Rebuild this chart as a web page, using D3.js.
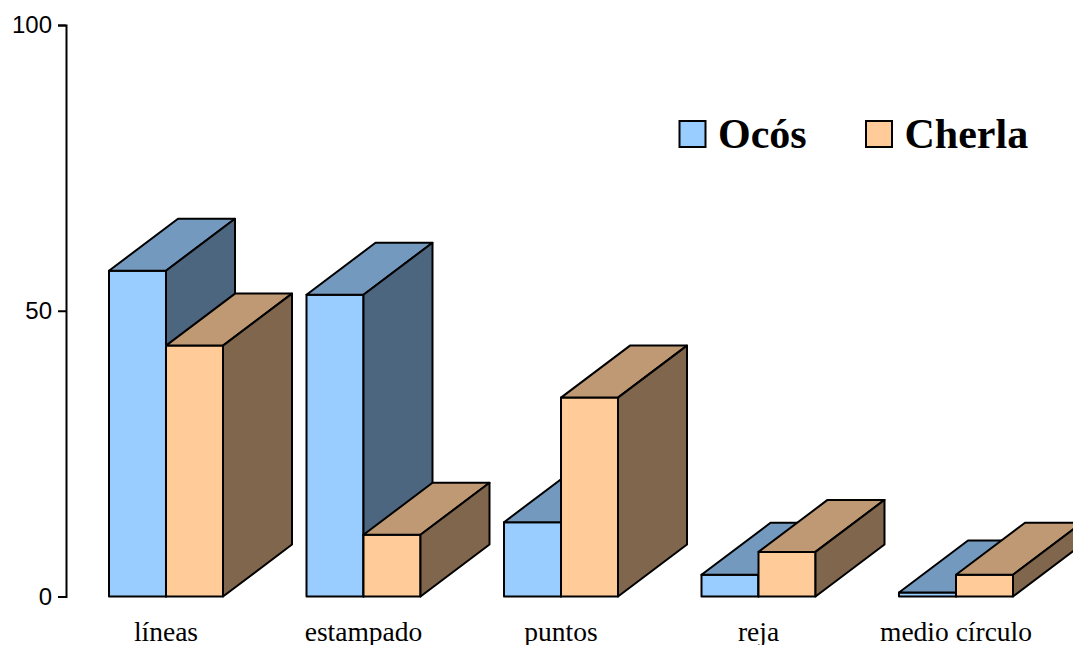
<!DOCTYPE html>
<html>
<head>
<meta charset="utf-8">
<script src="https://cdn.jsdelivr.net/npm/d3@7"></script>
<style>
  html, body { margin: 0; padding: 0; background: #fff; }
  svg { display: block; }
</style>
</head>
<body>
<svg id="chart" width="1073" height="645"></svg>
<script>
// Decorative techniques by site (percent)
const categories = ["líneas", "estampado", "puntos", "reja", "medio círculo"];
const seriesNames = ["Ocós", "Cherla"];
const ocos   = [57, 52.8, 13, 3.8, 0.7];
const cherla = [43.9, 10.8, 34.8, 7.8, 3.8];
const yTicks = [0, 50, 100];

const frontColors = ["#99ccff", "#ffcc99"];

const svg = d3.select("#chart");
const W = 1073, H = 645;

// 3D depth offset of each bar
const depthX = 69, depthY = -52;

const y = d3.scaleLinear().domain([0, 100]).range([596.5, 25]);
const x = d3.scaleBand().domain(categories).range([109, 1013]).paddingInner(0.4228).paddingOuter(0);
const xs = d3.scaleBand().domain(seriesNames).range([0, x.bandwidth()]);

function shade(c, k) {
  const r = d3.rgb(c);
  return d3.rgb(Math.round(r.r * k), Math.round(r.g * k), Math.round(r.b * k)).formatHex();
}

const bars = svg.append("g").attr("class", "bars");
const seriesValues = [ocos, cherla];

categories.forEach((cat, i) => {
  seriesNames.forEach((s, j) => {
    const v = seriesValues[j][i];
    const x0 = x(cat) + xs(s);
    const x1 = x0 + xs.bandwidth();
    const y0 = y(0);
    const y1 = y(v);
    const g = bars.append("g");
    const col = frontColors[j];
    const line = pts => "M" + pts.map(p => p.join(",")).join("L") + "Z";
    // front face
    g.append("path")
      .attr("d", line([[x0, y0], [x1, y0], [x1, y1], [x0, y1]]))
      .attr("fill", col);
    // top face
    g.append("path")
      .attr("d", line([[x0, y1], [x1, y1], [x1 + depthX, y1 + depthY], [x0 + depthX, y1 + depthY]]))
      .attr("fill", shade(col, 0.75));
    // side face
    g.append("path")
      .attr("d", line([[x1, y0], [x1 + depthX, y0 + depthY], [x1 + depthX, y1 + depthY], [x1, y1]]))
      .attr("fill", shade(col, 0.5));
    g.selectAll("path")
      .attr("stroke", "#000")
      .attr("stroke-width", 2)
      .attr("stroke-linejoin", "round");
  });
});

// y axis
const yAxis = d3.axisLeft(y).tickValues(yTicks).tickSize(8).tickPadding(6);
const ax = svg.append("g").attr("transform", "translate(66,0)").call(yAxis);
ax.select(".domain").attr("stroke", "#000").attr("stroke-width", 2);
ax.selectAll(".tick line").attr("stroke", "#000").attr("stroke-width", 2);
ax.selectAll(".tick text")
  .attr("font-family", "'Liberation Sans', Arial, sans-serif")
  .attr("font-size", 24)
  .attr("fill", "#000");

// category labels
svg.append("g").selectAll("text")
  .data(categories)
  .join("text")
  .attr("x", d => x(d) + x.bandwidth() / 2)
  .attr("y", 641)
  .attr("text-anchor", "middle")
  .attr("font-family", "'Liberation Serif', 'Times New Roman', serif")
  .attr("font-size", 27.5)
  .attr("fill", "#000")
  .text(d => d);

// legend
const legendX = [679.5, 866];
const legend = svg.append("g");
seriesNames.forEach((s, j) => {
  legend.append("rect")
    .attr("x", legendX[j]).attr("y", 121)
    .attr("width", 26).attr("height", 26)
    .attr("fill", frontColors[j])
    .attr("stroke", "#000").attr("stroke-width", 2);
  legend.append("text")
    .attr("x", legendX[j] + 38.5).attr("y", 147.5)
    .attr("font-family", "'Liberation Serif', 'Times New Roman', serif")
    .attr("font-weight", "bold")
    .attr("font-size", 42)
    .attr("fill", "#000")
    .text(s);
});
</script>
</body>
</html>
